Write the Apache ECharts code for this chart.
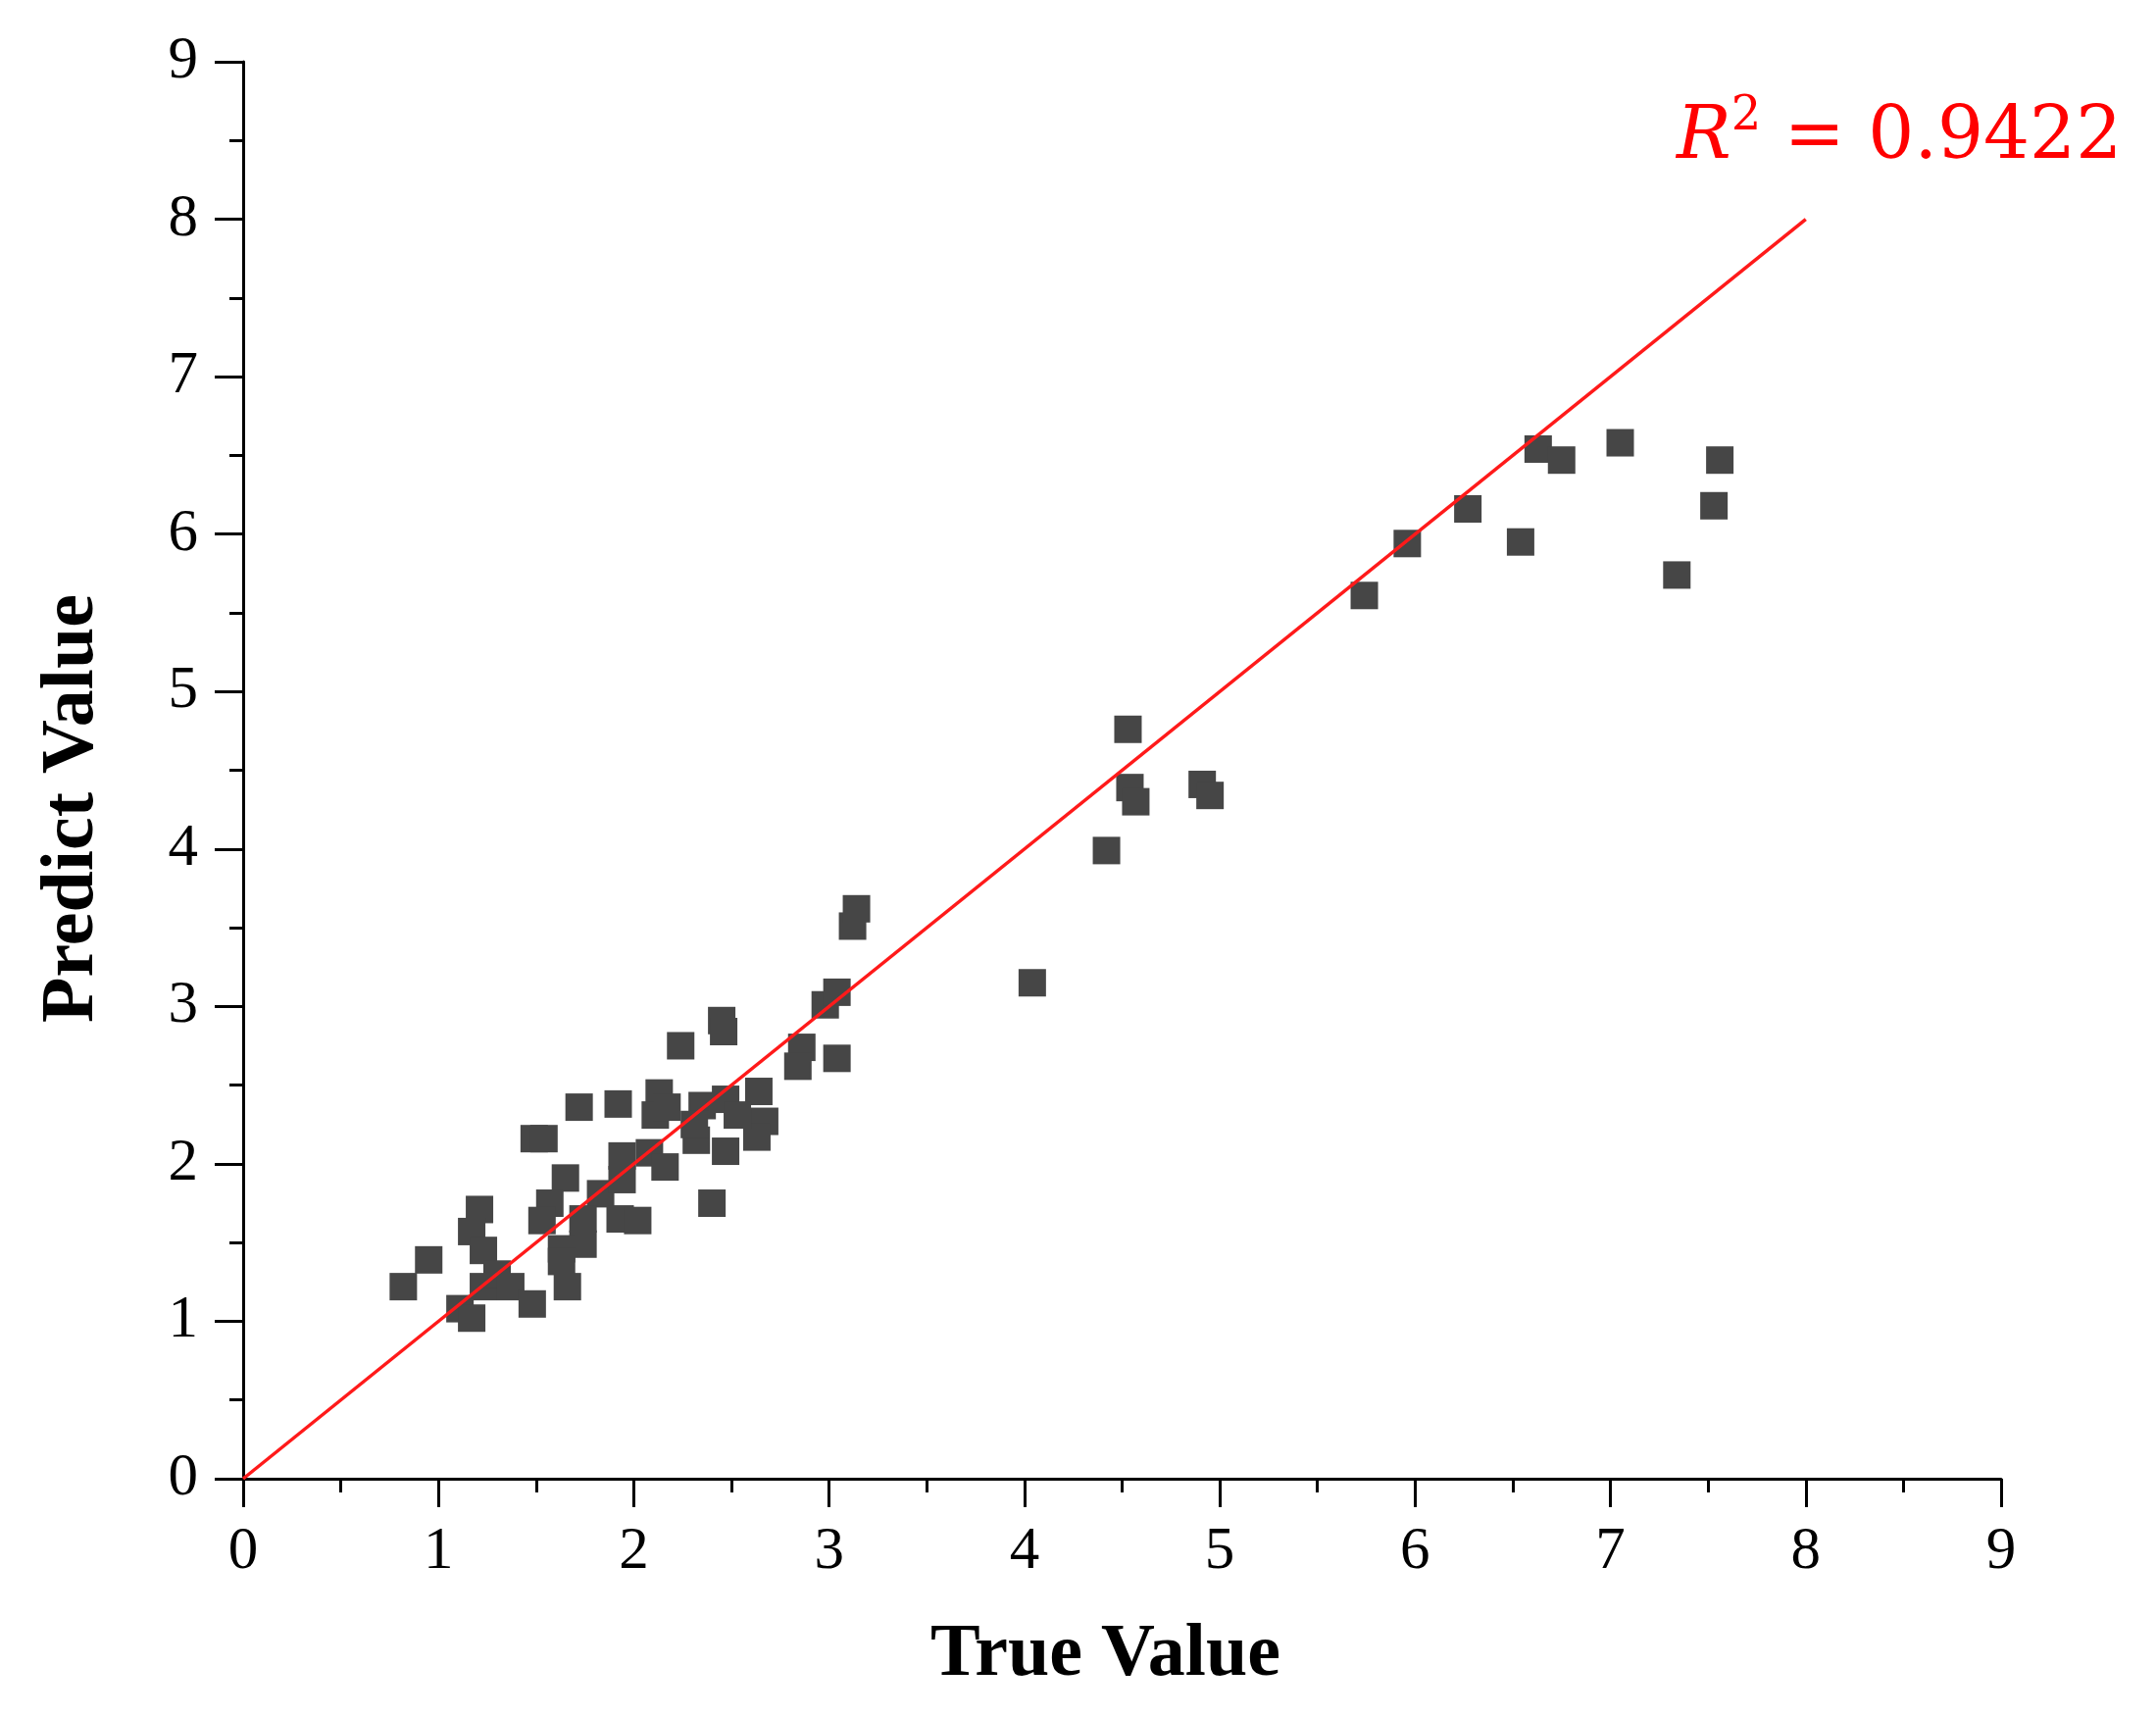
<!DOCTYPE html>
<html>
<head>
<meta charset="utf-8">
<title>True vs Predict</title>
<script src="https://cdn.jsdelivr.net/npm/echarts@6/dist/echarts.min.js"></script>
<style>
    html, body { margin: 0; padding: 0; background: #fff; }
    #chart { width: 2199px; height: 1751px; }
</style>
</head>
<body>
<div id="chart"></div>
<script>
// values
var trueValues = [
    0.82, 0.95, 1.11, 1.17, 1.21, 1.17, 1.23, 1.23, 1.30, 1.37, 1.48,
    1.49, 1.54, 1.72, 1.92, 1.65, 1.57, 1.53, 1.83, 1.74, 1.74, 1.63, 1.63, 1.66,
    1.94, 1.94, 2.08, 2.16, 1.93, 2.02, 2.13, 2.11, 2.17,
    2.24, 2.45, 2.46, 2.35, 2.47, 2.64, 2.67, 2.63, 2.32, 2.47, 2.53, 2.31, 2.40,
    2.86, 2.84, 2.98, 3.04, 3.04, 3.12, 3.14,
    4.04, 4.42, 4.53, 4.54, 4.57, 4.91, 4.95,
    5.74, 5.96, 6.27, 6.54, 6.63, 6.75, 7.05, 7.34, 7.53, 7.56
];
var predictValues = [
    1.22, 1.39, 1.08, 1.02, 1.71, 1.57, 1.45, 1.22, 1.30, 1.22, 1.11,
    2.16, 2.16, 2.36, 2.38, 1.91, 1.75, 1.64, 1.81, 1.65, 1.49, 1.46, 1.38, 1.22,
    2.05, 1.90, 2.07, 1.98, 1.65, 1.64, 2.45, 2.31, 2.36,
    2.75, 2.91, 2.84, 2.37, 2.41, 2.46, 2.27, 2.17, 2.15, 2.08, 2.31, 2.25, 1.75,
    2.74, 2.62, 3.01, 3.09, 2.67, 3.51, 3.62,
    3.15, 3.99, 4.76, 4.39, 4.30, 4.41, 4.34,
    5.61, 5.94, 6.16, 5.95, 6.54, 6.47, 6.58, 5.74, 6.18, 6.47
];
var fitLine = [[0, 0], [8, 8]];
var axisTicks = [0, 1, 2, 3, 4, 5, 6, 7, 8, 9];

var points = [];
for (var i = 0; i < trueValues.length; i++) {
    points.push([trueValues[i], predictValues[i]]);
}

var serif = '"Liberation Serif", "Times New Roman", serif';

function makeAxis(name, gap) {
    return {
        type: 'value',
        min: axisTicks[0],
        max: axisTicks[axisTicks.length - 1],
        interval: 1,
        name: name,
        nameLocation: 'middle',
        nameGap: gap,
        nameTextStyle: {
            fontFamily: serif,
            fontWeight: 'bold',
            fontSize: 76,
            color: '#000'
        },
        axisLine: { show: true, onZero: false, lineStyle: { color: '#000', width: 3 } },
        axisTick: { show: true, inside: false, length: 29, lineStyle: { color: '#000', width: 3 } },
        minorTick: { show: true, splitNumber: 2, length: 14, lineStyle: { color: '#000', width: 3 } },
        splitLine: { show: false },
        axisLabel: {
            fontFamily: serif,
            fontSize: 61,
            color: '#000',
            margin: 44
        }
    };
}

var chart = echarts.init(document.getElementById('chart'));
var xAx = makeAxis('True Value', 142);
xAx.nameTextStyle.padding = [0, 34, 0, 0];
var yAx = makeAxis('Predict Value', 136);
yAx.nameTextStyle.padding = [0, 78, 0, 0];
yAx.axisLabel.margin = 46;

var option = {
    backgroundColor: '#fff',
    animation: false,
    grid: { left: 248, right: 158, top: 63, bottom: 243 },
    xAxis: xAx,
    yAxis: yAx,
    series: [
        {
            type: 'scatter',
            data: points,
            symbol: 'rect',
            symbolSize: 28,
            itemStyle: { color: '#464646', opacity: 1 },
            z: 2
        },
        {
            type: 'line',
            data: fitLine,
            showSymbol: false,
            symbol: 'none',
            lineStyle: { color: '#ff1a1a', width: 3.5 },
            z: 3
        }
    ],
    graphic: [
        {
            type: 'text',
            left: 1710,
            top: 96,
            style: {
                text: '{r|R}{s|2}{n| = 0.9422}',
                rich: {
                    r: { fontFamily: '"DejaVu Serif", serif', fontStyle: 'italic', fontSize: 74, lineHeight: 92, fill: '#ff0000' },
                    s: { fontFamily: '"DejaVu Serif", serif', fontSize: 48, lineHeight: 56, verticalAlign: 'top', fill: '#ff0000' },
                    n: { fontFamily: '"DejaVu Serif", serif', fontSize: 74, lineHeight: 92, fill: '#ff0000' }
                }
            }
        }
    ]
};
chart.setOption(option);
</script>
</body>
</html>
